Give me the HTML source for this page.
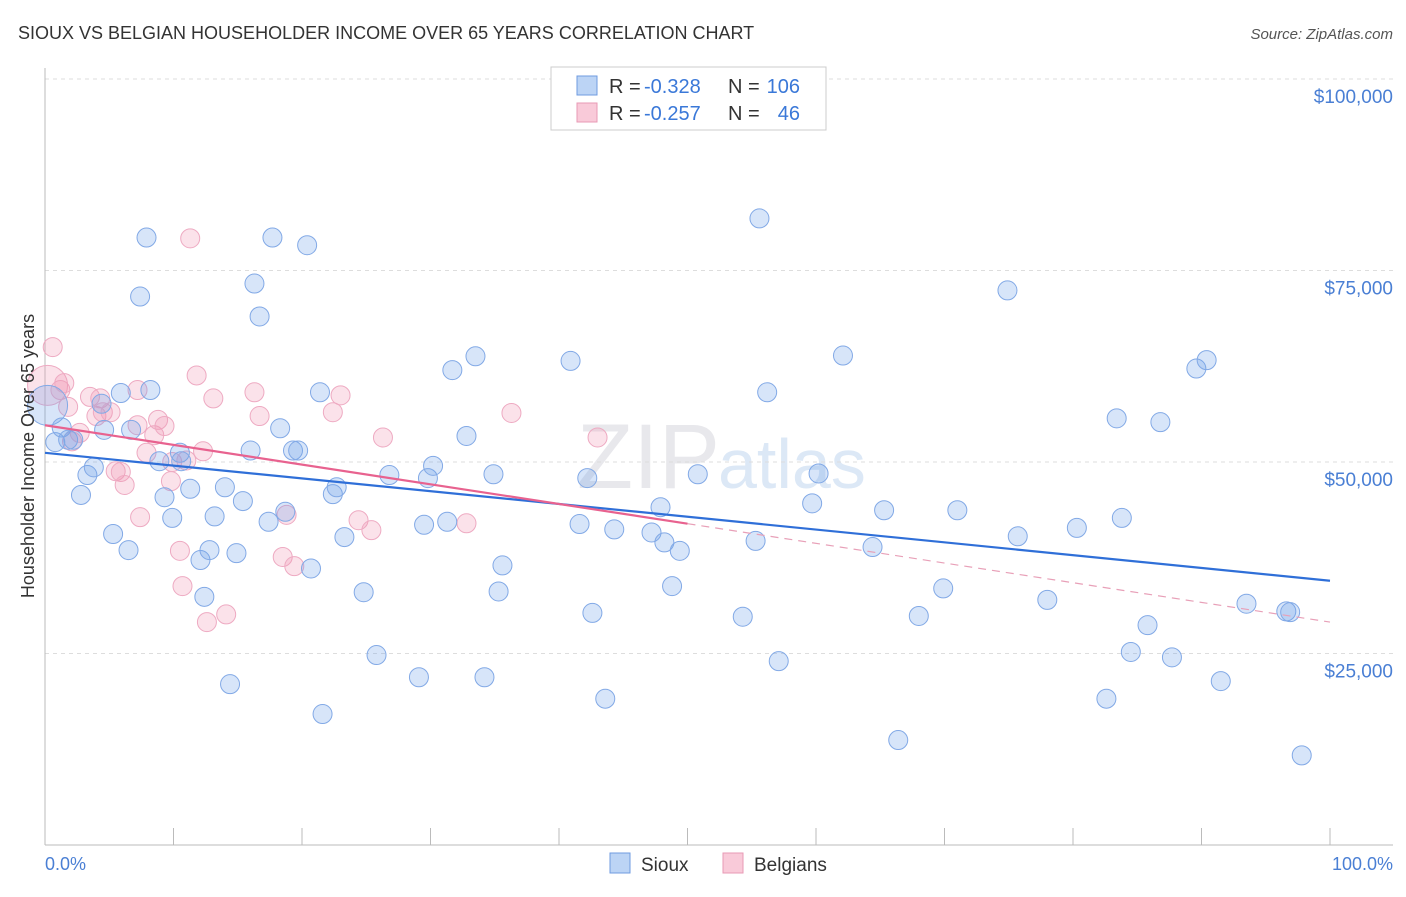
<!DOCTYPE html>
<html><head><meta charset="utf-8"><style>
body{margin:0;background:#fff;font-family:"Liberation Sans",sans-serif}
svg text{font-family:"Liberation Sans",sans-serif}
</style></head><body>
<svg id="c" width="1406" height="892">
<text x="18" y="39" font-size="18" fill="#333">SIOUX VS BELGIAN HOUSEHOLDER INCOME OVER 65 YEARS CORRELATION CHART</text>
<text x="1393" y="39" font-size="15" fill="#555" text-anchor="end" font-style="italic">Source: ZipAtlas.com</text>
<text x="720" y="488" font-size="92" fill="#e8e8ec" text-anchor="end" font-family="Liberation Serif">ZIP</text>
<text x="718" y="488" font-size="70" fill="#dce8f6">atlas</text>
<g id="grid"></g><g id="pts"></g><g id="lines"></g>
<text transform="translate(34,456) rotate(-90)" font-size="18" fill="#333" text-anchor="middle">Householder Income Over 65 years</text>
<text x="45" y="870" font-size="18" fill="#4a7fd4">0.0%</text>
<text x="1393" y="870" font-size="18" fill="#4a7fd4" text-anchor="end">100.0%</text>
<g>
<rect x="551" y="67" width="275" height="63" fill="#fff" stroke="#ccc"/>
<rect x="577" y="76" width="20" height="19" fill="#bcd4f5" stroke="#6f9be0"/>
<rect x="577" y="103" width="20" height="19" fill="#f9cad9" stroke="#e89ab5"/>
<text x="609" y="93" font-size="20" fill="#333">R =</text>
<text x="644" y="93" font-size="20" fill="#3a78d8">-0.328</text>
<text x="728" y="93" font-size="20" fill="#333">N =</text>
<text x="800" y="93" font-size="20" fill="#3a78d8" text-anchor="end">106</text>
<text x="609" y="120" font-size="20" fill="#333">R =</text>
<text x="644" y="120" font-size="20" fill="#3a78d8">-0.257</text>
<text x="728" y="120" font-size="20" fill="#333">N =</text>
<text x="800" y="120" font-size="20" fill="#3a78d8" text-anchor="end">46</text>
</g>
<g>
<rect x="610" y="853" width="20" height="20" fill="#bcd4f5" stroke="#6f9be0"/>
<text x="641" y="871" font-size="19" fill="#333">Sioux</text>
<rect x="723" y="853" width="20" height="20" fill="#f9cad9" stroke="#e89ab5"/>
<text x="754" y="871" font-size="19" fill="#333">Belgians</text>
</g>
</svg>
<script>
const yTicks=[25000,50000,75000,100000];
const yTickLabels=["$25,000","$50,000","$75,000","$100,000"];
const siouxX=[0.2,0.8,1.3,1.8,2.2,2.8,3.3,3.8,4.4,4.6,5.3,5.9,6.5,6.7,7.4,7.9,8.2,8.9,9.3,9.9,10.5,10.6,11.3,12.1,12.4,12.8,13.2,14.0,14.4,14.9,15.4,16.0,16.3,16.7,17.4,17.7,18.3,18.7,19.3,19.7,20.4,20.7,21.4,21.6,22.4,22.7,23.3,24.8,25.8,26.8,29.1,29.5,29.8,30.2,31.3,31.7,32.8,33.5,34.2,34.9,35.3,35.6,40.9,41.6,42.2,42.6,43.6,44.3,47.2,47.9,48.2,48.8,49.4,50.8,54.3,55.3,55.6,56.2,57.1,59.7,60.2,62.1,64.4,65.3,66.4,68.0,69.9,71.0,74.9,75.7,78.0,80.3,82.6,83.4,83.8,84.5,85.8,86.8,87.7,89.6,90.4,91.5,93.5,96.6,96.9,97.8];
const siouxY=[57.4,52.6,54.5,52.9,52.9,45.7,48.3,49.3,57.6,54.2,40.6,59.0,38.5,54.2,71.6,79.3,59.4,50.1,45.4,42.7,51.2,50.1,46.5,37.2,32.4,38.5,42.9,46.7,21.0,38.1,44.9,51.5,73.3,69.0,42.2,79.3,54.4,43.5,51.5,51.5,78.3,36.1,59.1,17.1,45.8,46.7,40.2,33.0,24.8,48.3,21.9,41.8,47.9,49.5,42.2,62.0,53.4,63.8,21.9,48.4,33.1,36.5,63.2,41.9,47.9,30.3,19.1,41.2,40.8,44.1,39.5,33.8,38.4,48.4,29.8,39.7,81.8,59.1,24.0,44.6,48.5,63.9,38.9,43.7,13.7,29.9,33.5,43.7,72.4,40.3,32.0,41.4,19.1,55.7,42.7,25.2,28.7,55.2,24.5,62.2,63.3,21.4,31.5,30.5,30.4,11.7];
const belgX=[0.2,0.6,1.2,1.5,1.8,2.1,2.7,3.5,4.0,4.3,4.5,5.1,5.5,5.9,6.2,7.2,7.4,7.9,8.5,8.8,9.3,9.8,9.9,10.5,10.7,11.3,11.8,12.3,12.6,13.1,14.1,16.3,16.7,18.5,18.8,19.4,22.4,23.0,24.4,25.4,26.3,32.8,36.3,43.0,7.2,11.0];
const belgY=[60.0,65.0,59.4,60.3,57.2,52.7,53.8,58.5,56.0,58.3,56.5,56.5,48.8,48.7,47.0,59.4,42.8,51.2,53.5,55.5,54.7,47.5,50.0,38.4,33.8,79.2,61.3,51.4,29.1,58.3,30.1,59.1,56.0,37.6,43.1,36.4,56.5,58.7,42.4,41.1,53.2,42.0,56.4,53.2,54.8,50.2];
const siouxTrend=[51.2,34.5];
const belgTrend=[54.8,29.1];
const belgSolidEnd=50;
const X=v=>45+v*12.85;
function yk(k){return 845-k*1000*191.5/25000;}
const NS="http://www.w3.org/2000/svg";
function mk(t,a,p){const e=document.createElementNS(NS,t);for(const k in a)e.setAttribute(k,a[k]);p.appendChild(e);return e;}
const grid=document.getElementById('grid'),pts=document.getElementById('pts'),lines=document.getElementById('lines');
yTicks.forEach((t,i)=>{const y=yk(t/1000);
 const l=mk('line',{x1:45,x2:1393,y1:y,y2:y,stroke:'#ddd','stroke-dasharray':'4,4'},grid);
 
 
 const tx=mk('text',{x:1393,y:y+24,'font-size':19,fill:'#4a7fd4','text-anchor':'end'},grid);tx.textContent=yTickLabels[i];
 
 });
const ax=mk('line',{x1:45,x2:1393,y1:845,y2:845,stroke:'#bbb'},grid);


const ay=mk('line',{x1:45,x2:45,y1:68,y2:845,stroke:'#bbb'},grid);


for(let i=1;i<=10;i++){const x=X(i*10);const t=mk('line',{x1:x,x2:x,y1:828,y2:845,stroke:'#bbb'},grid);
 
 }
function dots(xs,ys,fill,stroke,name){xs.forEach((x,i)=>{const r=(i===0)?20:9.5;
 const c=mk('circle',{cx:X(x),cy:yk(ys[i]),r:r,fill:fill,stroke:stroke,'stroke-width':1},pts);
 
 });}
dots(belgX,belgY,'rgba(242,150,180,0.28)','#eeaac2','belgians-point');
dots(siouxX,siouxY,'rgba(110,160,235,0.28)','#82a9e6','sioux-point');
let l1=mk('line',{x1:X(0),y1:yk(siouxTrend[0]),x2:X(100),y2:yk(siouxTrend[1]),stroke:'#2f6fd8','stroke-width':2.2},lines);


const bAt=x=>belgTrend[0]+(belgTrend[1]-belgTrend[0])*x/100;
let l2=mk('line',{x1:X(0),y1:yk(bAt(0)),x2:X(belgSolidEnd),y2:yk(bAt(belgSolidEnd)),stroke:'#e8628f','stroke-width':2.2},lines);


let l3=mk('line',{x1:X(belgSolidEnd),y1:yk(bAt(belgSolidEnd)),x2:X(100),y2:yk(bAt(100)),stroke:'#e8a0b8','stroke-width':1.2,'stroke-dasharray':'8,6'},lines);


</script>
</body></html>
